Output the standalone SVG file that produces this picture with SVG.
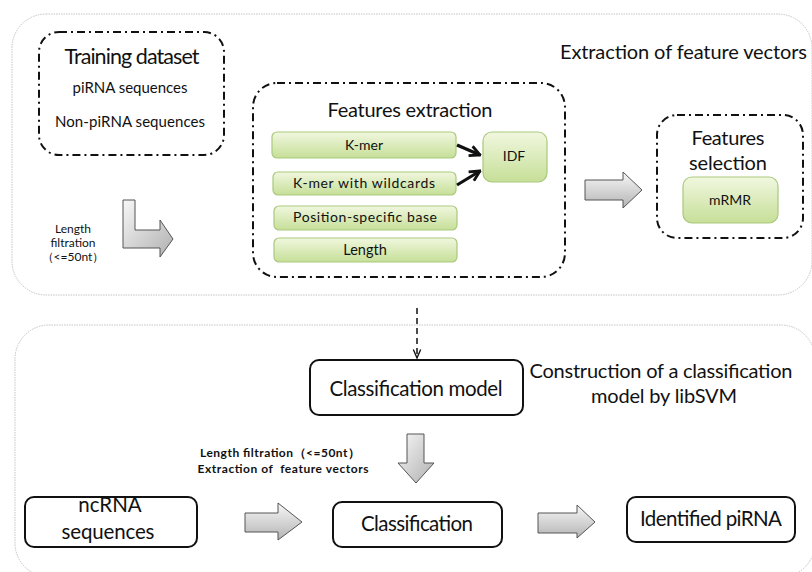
<svg xmlns="http://www.w3.org/2000/svg" width="812" height="572" viewBox="0 0 812 572">
  <style>
    .t { font-family: Lato, "Open Sans", "Liberation Sans", sans-serif; fill: #111; }
    .panel { fill: #fff; stroke: #c4c4c4; stroke-width: 1; stroke-dasharray: 1.5 1; }
    .dd { fill: none; stroke: #111; stroke-width: 2; stroke-dasharray: 8 4 2 4; }
    .green { fill: url(#gGreen); stroke: #a9c97c; stroke-width: 1.2; }
    .node { fill: #fff; stroke: #111; stroke-width: 2; }
    .fat { fill: url(#gGray); stroke: #555; stroke-width: 1; }
    .fatv { fill: url(#gGrayV); stroke: #555; stroke-width: 1; }
  </style>
  <defs>
    <linearGradient id="gGreen" x1="0" y1="0" x2="0" y2="1">
      <stop offset="0" stop-color="#f1f7df"/>
      <stop offset="1" stop-color="#c6df98"/>
    </linearGradient>
    <linearGradient id="gGray" x1="0" y1="0" x2="0" y2="1">
      <stop offset="0" stop-color="#f7f7f7"/>
      <stop offset="1" stop-color="#b4b4b4"/>
    </linearGradient>
    <linearGradient id="gGrayV" x1="0" y1="0" x2="1" y2="1">
      <stop offset="0" stop-color="#f7f7f7"/>
      <stop offset="1" stop-color="#b0b0b0"/>
    </linearGradient>
    <marker id="chev" viewBox="0 0 10 10" refX="9" refY="5" markerWidth="4" markerHeight="4" orient="auto" markerUnits="strokeWidth">
      <path d="M1,1 L9,5 L1,9" fill="none" stroke="#111" stroke-width="2.2" stroke-linejoin="miter"/>
    </marker>
    <marker id="vhead" viewBox="0 0 10 10" refX="9" refY="5" markerWidth="7" markerHeight="7" orient="auto" markerUnits="strokeWidth">
      <path d="M1,1.5 L9,5 L1,8.5" fill="none" stroke="#111" stroke-width="1.3"/>
    </marker>
  </defs>

  <!-- panels -->
  <rect class="panel" x="12" y="14" width="800" height="281" rx="34"/>
  <rect class="panel" x="15" y="325" width="800" height="252" rx="34"/>

  <text class="t" x="560" y="59" font-size="20" textLength="247">Extraction of feature vectors</text>
  <text class="t" x="661" y="378" font-size="20" text-anchor="middle" textLength="263">Construction of a classification</text>
  <text class="t" x="664" y="403" font-size="20" text-anchor="middle" textLength="146">model by libSVM</text>

  <g id="training-dataset">
    <rect class="dd" x="39" y="32" width="185" height="123" rx="20"/>
    <text class="t" x="132" y="64" font-size="21.5" text-anchor="middle" textLength="135">Training dataset</text>
    <text class="t" x="130" y="93" font-size="15" text-anchor="middle" textLength="115">piRNA sequences</text>
    <text class="t" x="130" y="127" font-size="15" text-anchor="middle" textLength="150">Non-piRNA sequences</text>
  </g>

  <g id="length-filtration-label">
    <text class="t" x="73" y="233" font-size="12" text-anchor="middle">Length</text>
    <text class="t" x="73" y="247" font-size="12" text-anchor="middle">filtration</text>
    <text class="t" x="73" y="261" font-size="12" text-anchor="middle">（&lt;=50nt）</text>
  </g>

  <g id="features-extraction">
    <rect class="dd" x="253" y="83" width="312" height="194" rx="24"/>
    <text class="t" x="410" y="117" font-size="20" text-anchor="middle" textLength="165">Features extraction</text>
  </g>
  <g id="kmer">
    <rect class="green" x="272" y="132" width="184" height="26" rx="5"/>
    <text class="t" x="364" y="150" font-size="14" text-anchor="middle">K-mer</text>
  </g>
  <g id="kmer-wildcards">
    <rect class="green" x="273" y="172" width="183" height="23" rx="5"/>
    <text class="t" x="364" y="188" font-size="14" text-anchor="middle" textLength="142">K-mer with wildcards</text>
  </g>
  <g id="position-specific">
    <rect class="green" x="274" y="206" width="183" height="24" rx="5"/>
    <text class="t" x="365" y="222" font-size="14" text-anchor="middle" textLength="144">Position-specific base</text>
  </g>
  <g id="length">
    <rect class="green" x="274" y="238" width="183" height="24" rx="5"/>
    <text class="t" x="365" y="255" font-size="14.5" text-anchor="middle">Length</text>
  </g>
  <g id="idf">
    <rect class="green" x="483" y="132" width="64" height="50" rx="9"/>
    <text class="t" x="514" y="161" font-size="14" text-anchor="middle">IDF</text>
  </g>

  <g id="features-selection">
    <rect class="dd" x="657" y="115" width="146" height="123" rx="20"/>
    <text class="t" x="728" y="145" font-size="20" text-anchor="middle" textLength="73">Features</text>
    <text class="t" x="728" y="170" font-size="20" text-anchor="middle" textLength="78">selection</text>
  </g>
  <g id="mrmr">
    <rect class="green" x="683" y="177" width="95" height="46" rx="9"/>
    <text class="t" x="730" y="205" font-size="14" text-anchor="middle">mRMR</text>
  </g>

  <g id="classification-model">
    <rect class="node" x="310" y="360" width="213" height="55" rx="9"/>
    <text class="t" x="416" y="396" font-size="20.5" text-anchor="middle" textLength="173">Classification model</text>
  </g>
  <g id="ncrna">
    <rect class="node" x="25" y="497" width="172" height="50" rx="9"/>
    <text class="t" x="110" y="512" font-size="20.5" text-anchor="middle">ncRNA</text>
    <text class="t" x="108" y="539" font-size="20.5" text-anchor="middle" textLength="93">sequences</text>
  </g>
  <g id="classification">
    <rect class="node" x="333" y="502" width="169" height="45" rx="9"/>
    <text class="t" x="417" y="531" font-size="20.5" text-anchor="middle" textLength="112">Classification</text>
  </g>
  <g id="identified-pirna">
    <rect class="node" x="627" y="497" width="168" height="45" rx="9"/>
    <text class="t" x="711" y="526" font-size="20.5" text-anchor="middle" textLength="142">Identified piRNA</text>
  </g>

  <g id="step-label">
    <text class="t" x="280" y="457" font-size="12" font-weight="bold" text-anchor="middle" textLength="160">Length filtration（&lt;=50nt）</text>
    <text class="t" x="283" y="473" font-size="12" font-weight="bold" text-anchor="middle" textLength="171" xml:space="preserve">Extraction of  feature vectors</text>
  </g>

  <g id="connectors">
    <!-- block arrows -->
    <polygon class="fatv" points="123,200 135,200 135,230 160,230 160,220 173,239 160,257 160,248 123,248"/>
    <polygon class="fat" points="585,180 623,180 623,172 642,190 623,208 623,200 585,200"/>
    <polygon class="fatv" points="407,434 424,434 424,463 434,463 416,483 398,463 407,463"/>
    <polygon class="fat" points="245,513 278,513 278,503 302,522 278,540 278,532 245,532"/>
    <polygon class="fat" points="538,513 577,513 577,505 595,522 577,538 577,533 538,533"/>
    <!-- feature arrows into IDF -->
    <line x1="457" y1="145" x2="480" y2="155" stroke="#111" stroke-width="3.2" marker-end="url(#chev)"/>
    <line x1="457" y1="185" x2="480" y2="171" stroke="#111" stroke-width="3.2" marker-end="url(#chev)"/>
    <!-- model hand-off -->
    <line x1="417" y1="308" x2="417" y2="358" stroke="#111" stroke-width="1.5" stroke-dasharray="6 4" marker-end="url(#vhead)"/>
  </g>
</svg>
